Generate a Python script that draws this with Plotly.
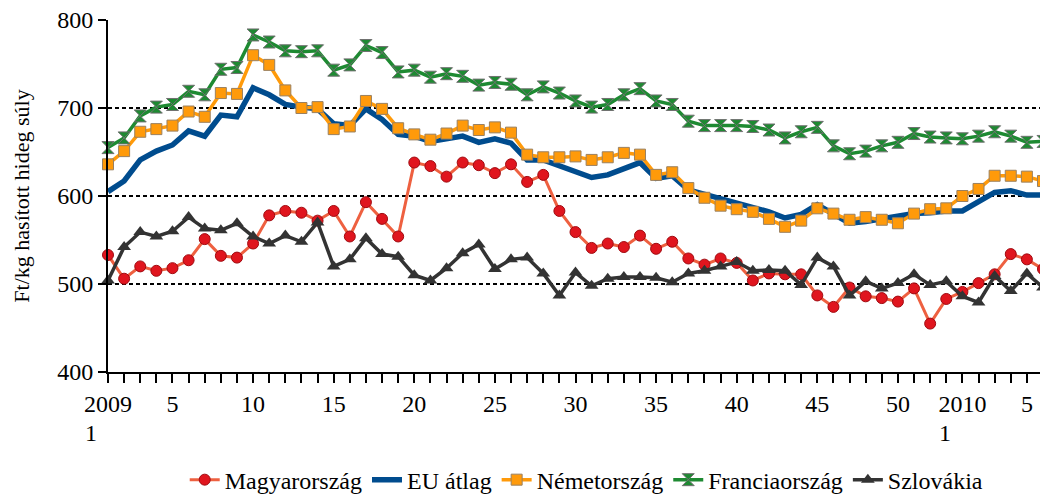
import plotly.graph_objects as go

weeks = list(range(59))
tick_labels = {0: "2009", 4: "5", 9: "10", 14: "15", 19: "20", 24: "25", 29: "30",
               34: "35", 39: "40", 44: "45", 49: "50", 53: "2010", 57: "5"}
year_start_idx = [0, 53]
year_start_label = ["1", "1"]

magyarorszag = [533, 506, 520, 515, 518, 527, 551, 532, 530, 546,
                578, 583, 581, 572, 583, 554, 593, 574, 554, 638,
                634, 622, 638, 635, 626, 636, 616, 624, 583, 559,
                541, 546, 542, 555, 540, 548, 529, 522, 529, 524,
                504, 512, 511, 511, 487, 474, 496, 486, 484, 480,
                495, 455, 483, 491, 501, 511, 534, 528, 517]
eu_atlag = [605, 617, 641, 651, 658, 674, 668, 692, 690, 723,
            715, 704, 701, 699, 682, 680, 699, 687, 670, 668,
            662, 665, 668, 661, 665, 660, 641, 641, 634, 627,
            621, 624, 631, 638, 620, 623, 607, 602, 596, 592,
            586, 582, 575, 579, 590, 580, 569, 571, 574, 577,
            580, 581, 583, 583, 594, 604, 606, 601, 601]
nemetorszag = [636, 651, 673, 676, 680, 696, 690, 717, 716, 760,
               749, 720, 700, 701, 676, 679, 708, 699, 677, 670,
               664, 671, 680, 675, 678, 672, 647, 644, 644, 645,
               641, 644, 649, 647, 624, 627, 609, 598, 589, 585,
               582, 574, 565, 572, 586, 580, 573, 576, 573, 569,
               580, 585, 586, 600, 608, 623, 623, 622, 617]
franciaorszag = [655, 666, 691, 701, 704, 719, 715, 744, 746, 783,
                 775, 765, 764, 765, 743, 749, 771, 763, 741, 743,
                 735, 739, 736, 726, 729, 727, 715, 724, 717, 708,
                 701, 704, 715, 722, 708, 704, 685, 680, 680, 680,
                 679, 675, 666, 673, 678, 657, 648, 651, 657, 661,
                 671, 667, 666, 665, 668, 673, 668, 661, 662]
szlovakia = [504, 542, 559, 554, 560, 576, 563, 561, 569, 554,
             546, 555, 548, 570, 520, 528, 552, 534, 531, 510,
             504, 518, 535, 545, 517, 528, 530, 512, 487, 513,
             498, 506, 508, 508, 507, 502, 512, 515, 520, 525,
             515, 516, 515, 499, 530, 520, 487, 503, 495, 501,
             511, 499, 503, 486, 479, 509, 492, 512, 496]

FONT = "Liberation Serif"
FS = 24

fig = go.Figure()
fig.add_trace(go.Scatter(
    x=weeks, y=magyarorszag, name="Magyarország", mode="lines+markers",
    line=dict(color="#EE6040", width=3),
    marker=dict(symbol="circle", size=11, color="#E0151E",
                line=dict(color="#A00A10", width=1)),
    cliponaxis=False))
fig.add_trace(go.Scatter(
    x=weeks, y=eu_atlag, name="EU átlag", mode="lines",
    line=dict(color="#004C8E", width=5.5),
    cliponaxis=False))
fig.add_trace(go.Scatter(
    x=weeks, y=nemetorszag, name="Németország", mode="lines+markers",
    line=dict(color="#FF9A0A", width=3.5),
    marker=dict(symbol="square", size=11, color="#FF9A0A",
                line=dict(color="#9A8060", width=1)),
    cliponaxis=False))
fig.add_trace(go.Scatter(
    x=weeks, y=franciaorszag, name="Franciaország", mode="lines+markers",
    line=dict(color="#1E8A32", width=3.5),
    marker=dict(symbol="hourglass", size=12, color="#1E8A32",
                line=dict(color="#707070", width=1)),
    cliponaxis=False))
fig.add_trace(go.Scatter(
    x=weeks, y=szlovakia, name="Szlovákia", mode="lines+markers",
    line=dict(color="#333333", width=3.5),
    marker=dict(symbol="triangle-up", size=12, color="#333333"),
    cliponaxis=False))

ticktext = [tick_labels.get(w, "") for w in weeks]

for idx, lab in zip(year_start_idx, year_start_label):
    fig.add_annotation(x=idx, y=0, xref="x", yref="paper", text=lab,
                       showarrow=False, xanchor="center", yanchor="middle",
                       xshift=-17, yshift=-61,
                       font=dict(family=FONT, size=FS, color="black"))

# page body has an 8px margin: figure is sized to fit the 1048x497 window
fig.update_layout(
    width=1040, height=489,
    margin=dict(l=100, r=5, t=12, b=125, autoexpand=False),
    paper_bgcolor="white", plot_bgcolor="white",
    font=dict(family=FONT, size=FS, color="black"),
    legend=dict(orientation="h", x=0.512, xanchor="center", y=-0.307,
                yanchor="middle", font=dict(family=FONT, size=FS),
                itemwidth=30, tracegroupgap=0),
    xaxis=dict(range=[0, 58], tickmode="array", tickvals=weeks, ticktext=ticktext,
               ticks="outside", ticklen=9, tickwidth=1.5, tickcolor="black",
               showline=True, linecolor="black", linewidth=2,
               showgrid=False, zeroline=False, automargin=False,
               ticklabeloverflow="allow",
               tickfont=dict(family=FONT, size=FS)),
    yaxis=dict(range=[400, 800], dtick=100, tick0=400,
               ticks="outside", ticklen=8, tickwidth=1.5, tickcolor="black",
               showline=True, linecolor="black", linewidth=2,
               showgrid=True, gridcolor="black", gridwidth=2, griddash="4px,3px",
               zeroline=False, automargin=False,
               ticklabeloverflow="allow",
               title=dict(text="Ft/kg hasított hideg súly", standoff=22,
                          font=dict(family=FONT, size=22)),
               tickfont=dict(family=FONT, size=FS)),
)

fig.write_html("out.html")
